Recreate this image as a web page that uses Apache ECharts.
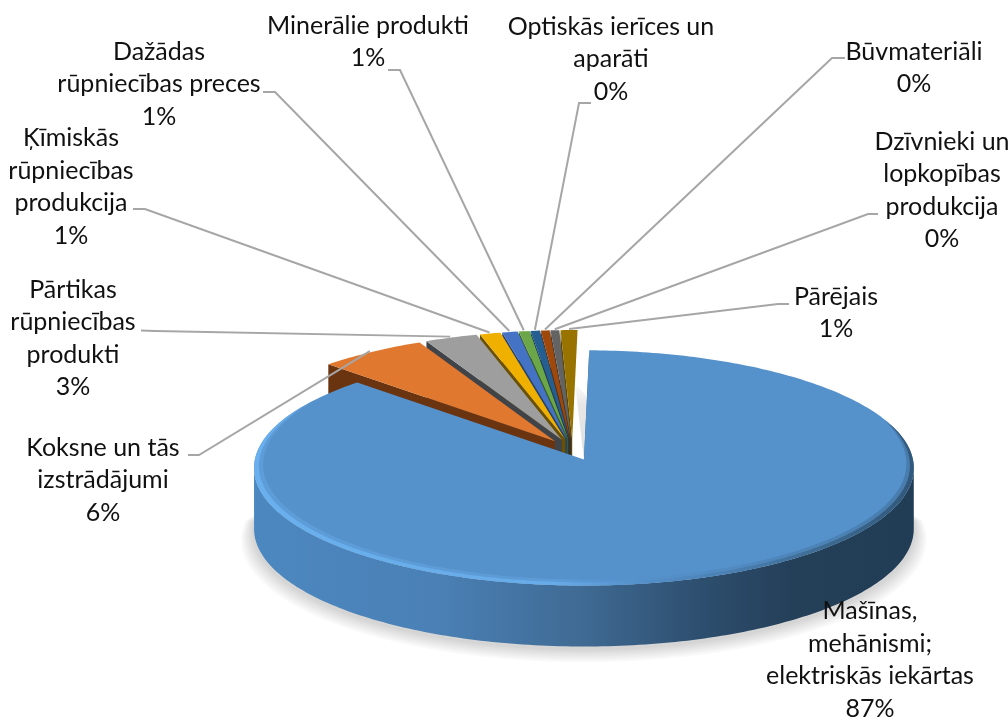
<!DOCTYPE html>
<html>
<head>
<meta charset="utf-8">
<style>html,body{margin:0;padding:0;background:#fff}#c{width:1008px;height:718px}</style>
<script src="https://cdn.jsdelivr.net/npm/echarts@6/dist/echarts.min.js"></script>
</head>
<body>
<div id="c"></div>
<script>
// ---- data ----
var categories = [
  'Mašīnas,\nmehānismi;\nelektriskās iekārtas',
  'Koksne un tās\nizstrādājumi',
  'Pārtikas\nrūpniecības\nprodukti',
  'Ķīmiskās\nrūpniecības\nprodukcija',
  'Dažādas\nrūpniecības preces',
  'Minerālie produkti',
  'Optiskās ierīces un\naparāti',
  'Būvmateriāli',
  'Dzīvnieki un\nlopkopības\nprodukcija',
  'Pārējais'
];
var values = [86.85, 5.65, 2.75, 1.09, 0.81, 0.56, 0.49, 0.46, 0.46, 0.88];
var colors = ['#5591CB','#E0782F','#9E9E9E','#F0B000','#4472C4','#6BA748','#255E91','#9E480E','#636363','#997300'];
var wallColors = ['#3F6A93','#6B3410','#404347','#6B5000','#27416F','#3A5C25','#143350','#5A2908','#333333','#5C4500'];

// ---- layout ----
var labelCenters = [[870,660],[103,480],[73,338.5],[71,187],[159,84],[368,42],[611,59],[914,68],[942,190.5],[836,313]];
var leaderStarts = [null,[188,455],[141,330.5],[133,209],[263,92],[388,70],[591,103],[845,58],[878,214],[789,304]];
var leaderKnees  = [null,[199,455],[155,331],[145,209],[275,92],[400,70],[579,103],[832,58],[868,214],[778,304]];

var CX = 572.5, CY = 449.7, RX = 329, RY = 117, PERSP = 0.0723, DEPTH = 61, EXPLODE = 0.09, START = 1;
var FONT = 'Lato, Carlito, sans-serif';

var total = values.reduce(function (a, b) { return a + b; }, 0);
var spans = [];
(function () {
  var acc = START;
  values.forEach(function (v) {
    var sweep = v / total * 360;
    spans.push([acc, acc + sweep]);
    acc += sweep;
  });
})();
function rad(d) { return d * Math.PI / 180; }
function offsetOf(i) {
  var m = rad((spans[i][0] + spans[i][1]) / 2);
  return [EXPLODE * RX * Math.sin(m), -EXPLODE * RY * Math.cos(m)];
}
function project(i, deg, r, dy) {
  var o = offsetOf(i);
  var u = r * Math.sin(rad(deg)), v = r * Math.cos(rad(deg)), w = 1 / (1 + PERSP * v);
  return [CX + o[0] + RX * u * w, CY + o[1] - RY * v * w + (dy || 0)];
}
function arc(i, a, b, r, dy) {
  var pts = [], n = Math.max(2, Math.ceil(Math.abs(b - a)));
  for (var k = 0; k <= n; k++) pts.push(project(i, a + (b - a) * k / n, r, dy));
  return pts;
}
// band just inside the rim that tapers to nothing at both ends
function crescent(i, a, b, t) {
  var outer = arc(i, a, b, 1), inner = [], n = outer.length - 1;
  for (var k = n; k >= 0; k--) {
    var f = k / n, ease = Math.pow(Math.sin(Math.PI * f), 0.6);
    inner.push(project(i, a + (b - a) * f, 1 - t * ease));
  }
  return outer.concat(inner);
}
function stopsOf(stops) {
  return stops.map(function (s) { return { offset: s[0], color: s[1] }; });
}
function grad(stops) {
  return new echarts.graphic.LinearGradient(0, 0, 1, 0, stopsOf(stops));
}

function renderSlice(params) {
  var i = values.length - 1 - params.dataIndex;  // paint back to front
  var a = spans[i][0], b = spans[i][1];
  var big = b - a > 180;
  var kids = [];
  var apex = project(i, 0, 0);
  var apexLow = project(i, 0, 0, DEPTH);
  var c0 = project(i, a, 1), c0low = project(i, a, 1, DEPTH);

  if (big) {
    // soft ground shadow under the near half
    for (var s = 7; s >= 1; s--) {
      kids.push({
        type: 'polygon',
        shape: { points: arc(i, 85, 275, 1 + s * 0.0055, DEPTH + 2 + s * 1.2) },
        style: { fill: 'rgba(0,0,0,0.022)' }
      });
    }
    // shadow cast into the gap beside the big slice
    kids.push({
      type: 'polygon',
      shape: { points: [apex, project(i, a, 0.56), project(values.length - 1, a + 360, 0.5)] },
      style: { fill: new echarts.graphic.LinearGradient(0, 0, 0, 1, stopsOf([[0,'rgba(225,225,225,0)'],[0.3,'#E6E6E6'],[1,'#E0E0E0']])) }
    });
  }
  // outer wall: runs between the rim's widest points, where the perspective ellipse turns
  var turn = Math.asin(PERSP) * 180 / Math.PI;
  var wa = Math.max(a, 90 + turn), wb = Math.min(b, 270 - turn);
  if (wb > wa) {
    kids.push({
      type: 'polygon',
      shape: { points: arc(i, wa, wb, 1).concat(arc(i, wb, wa, 1, DEPTH)) },
      style: {
        fill: grad([[0,'#4C88C0'],[0.28,'#4A80B5'],[0.5,'#3F6A93'],[0.68,'#2D4E6E'],[0.82,'#243F58'],[1,'#213D56']])
      }
    });
  }
  // radial wall on the leading edge
  kids.push({
    type: 'polygon',
    shape: { points: [apex, c0, c0low, apexLow] },
    style: { fill: wallColors[i] }
  });
  // top face
  kids.push({
    type: 'polygon',
    shape: { points: [apex].concat(arc(i, a, b, 1)) },
    style: { fill: colors[i] }
  });
  // bevel on the rim of the big slice
  if (big) {
    var stops = [[0,'#6BB2F0'],[0.45,'#69AEEB'],[0.58,'#5591CB'],[0.72,'#4A7FB0'],[0.88,'#3A6589'],[1,'#2F5475']];
    kids.push({ type: 'polygon', shape: { points: crescent(i, 70, 300, 0.045) },
      style: { fill: grad(stops), opacity: 0.35 } });
    kids.push({ type: 'polygon', shape: { points: crescent(i, 72, 298, 0.024) },
      style: { fill: grad(stops), opacity: 0.9 } });
  }
  return { type: 'group', silent: true, children: kids };
}

function renderLabel(params) {
  var i = params.dataIndex, kids = [];
  var pct = Math.round(values[i] / total * 100) + '%';
  if (leaderStarts[i]) {
    var mid = (spans[i][0] + spans[i][1]) / 2;
    var end = project(i, mid, 1.01);
    kids.push({
      type: 'polyline',
      shape: { points: [leaderStarts[i], leaderKnees[i], end] },
      style: { fill: null, stroke: '#A6A6A6', lineWidth: 2 }
    });
  }
  kids.push({
    type: 'text',
    style: {
      x: labelCenters[i][0], y: labelCenters[i][1],
      text: categories[i] + '\n' + pct,
      align: 'center', verticalAlign: 'middle',
      fontFamily: FONT, fontSize: 25, lineHeight: 32.5, fill: '#111111'
    }
  });
  return { type: 'group', silent: true, children: kids };
}

var chart = echarts.init(document.getElementById('c'), null, { renderer: 'canvas' });
chart.setOption({
  animation: false,
  backgroundColor: '#ffffff',
  series: [
    { type: 'custom', coordinateSystem: 'none', z: 1, renderItem: renderSlice,
      data: values.map(function (v, i) { return values[values.length - 1 - i]; }) },
    { type: 'custom', coordinateSystem: 'none', z: 2, renderItem: renderLabel,
      data: values.slice() }
  ]
});
</script>
</body>
</html>
